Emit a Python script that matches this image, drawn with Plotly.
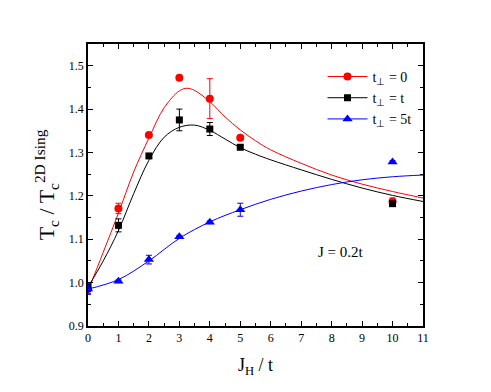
import plotly.graph_objects as go

# --------------------------- DATA ---------------------------
jh = [0, 1, 2, 3, 4, 5, 10]

tc_t0 = [0.985, 1.171, 1.340, 1.472, 1.424, 1.334, 1.187]
err_t0 = [0.010, 0.012, 0.005, 0.004, 0.046, 0.004, 0.008]

tc_t1 = [0.990, 1.132, 1.292, 1.375, 1.354, 1.312, 1.182]
err_t1 = [0.010, 0.015, 0.004, 0.025, 0.015, 0.004, 0.004]

tc_t5 = [0.985, 1.003, 1.053, 1.106, 1.139, 1.168, 1.278]
err_t5 = [0.012, 0.003, 0.010, 0.003, 0.003, 0.015, 0.003]

# fitted guide curves
fit_x0 = [0, 0.5, 1, 1.5, 2, 2.5, 3, 3.25, 3.5, 4, 4.5, 5, 5.5, 6, 7, 8, 9, 10, 11]
fit_y0 = [0.980, 1.070, 1.160, 1.255, 1.333, 1.403, 1.442, 1.448, 1.443, 1.417, 1.382, 1.352,
          1.327, 1.306, 1.275, 1.248, 1.227, 1.210, 1.195]

fit_x1 = [0, 0.5, 1, 1.5, 2, 2.5, 3, 3.5, 4, 4.5, 5, 5.5, 6, 7, 8, 9, 10, 11]
fit_y1 = [0.990, 1.050, 1.120, 1.205, 1.282, 1.335, 1.358, 1.363, 1.351, 1.331, 1.311,
          1.296, 1.283, 1.260, 1.238, 1.218, 1.201, 1.187]

fit_x5 = [0, 1, 2, 3, 4, 5, 6, 7, 8, 9, 10, 11]
fit_y5 = [0.985, 1.007, 1.050, 1.102, 1.140, 1.168, 1.192, 1.211, 1.226, 1.237, 1.244, 1.248]

RED = "#ff0000"
BLACK = "#000000"
BLUE = "#0000ff"
FONT = "Liberation Serif"

fig = go.Figure()

series = [
    (tc_t0, err_t0, fit_x0, fit_y0, RED, "circle", 8, "t<sub>⊥</sub> = 0"),
    (tc_t1, err_t1, fit_x1, fit_y1, BLACK, "square", 7, "t<sub>⊥</sub> = t"),
    (tc_t5, err_t5, fit_x5, fit_y5, BLUE, "triangle-up", 9, "t<sub>⊥</sub> = 5t"),
]

for ys, errs, fx, fy, color, sym, size, name in series:
    # smooth guide line
    fig.add_trace(go.Scatter(
        x=fx, y=fy, mode="lines", line=dict(color=color, width=1, shape="spline"),
        showlegend=False, hoverinfo="skip",
    ))
    # data points with error bars
    fig.add_trace(go.Scatter(
        x=jh, y=ys, mode="markers", name=name,
        marker=dict(color=color, symbol=sym, size=size),
        error_y=dict(type="data", array=errs, color=color, thickness=1, width=3),
        showlegend=False,
    ))
    # legend entry: line + marker
    fig.add_trace(go.Scatter(
        x=[None], y=[None], mode="lines+markers", name=name,
        line=dict(color=color, width=1),
        marker=dict(color=color, symbol=sym, size=size),
    ))

axis_common = dict(
    showline=True, linecolor="black", linewidth=1.5, mirror="ticks",
    ticks="inside", ticklen=5, tickwidth=1, tickcolor="black",
    showgrid=False, zeroline=False,
    tickfont=dict(family=FONT, size=12, color="black"),
)

# page body adds an 8px offset, so margins are trimmed to compensate
fig.update_layout(
    width=483, height=384,
    margin=dict(l=80, r=68, t=36, b=66),
    paper_bgcolor="white", plot_bgcolor="white",
    font=dict(family=FONT, color="black"),
    xaxis=dict(
        range=[0, 11], dtick=1, tick0=0,
        minor=dict(dtick=0.5, ticks="inside", ticklen=3, tickcolor="black"),
        title=dict(text="J<sub>H</sub> / t", font=dict(family=FONT, size=18), standoff=14),
        **axis_common,
    ),
    yaxis=dict(
        range=[0.9, 1.55], dtick=0.1, tick0=0.9, tickformat=".1f",
        minor=dict(dtick=0.05, ticks="inside", ticklen=3, tickcolor="black"),
        title=dict(text="T<sub>c</sub> / T<sub>c</sub><sup>2D Ising</sup>",
                   font=dict(family=FONT, size=22), standoff=8),
        **axis_common,
    ),
    legend=dict(
        x=0.7, y=0.94, xanchor="left", yanchor="top",
        bgcolor="rgba(0,0,0,0)", font=dict(family=FONT, size=14),
        tracegroupgap=0, itemwidth=40,
    ),
    annotations=[dict(
        x=8.3, y=1.07, xref="x", yref="y", text="J = 0.2t", showarrow=False,
        font=dict(family=FONT, size=15, color="black"),
    )],
)

fig.write_html("out.html")
